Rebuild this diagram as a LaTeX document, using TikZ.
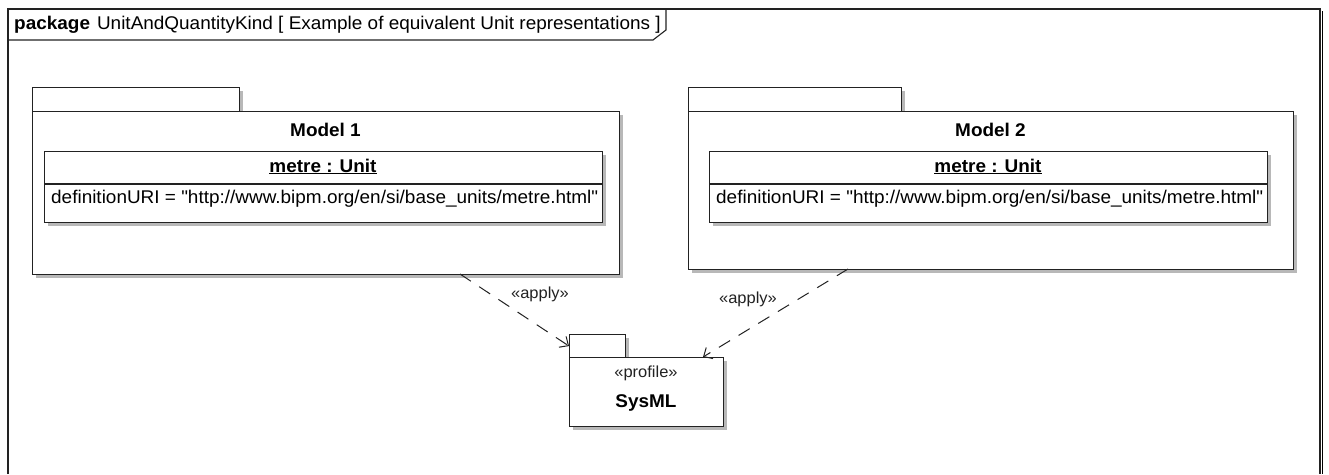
\documentclass[tikz,border=0pt]{standalone}
\usepackage{fontspec}
\setmainfont{Liberation Sans}[Ligatures=TeXOff, FakeStretch=1.03]
\usetikzlibrary{arrows.meta}
\definecolor{edge}{HTML}{222222}
\definecolor{shade}{HTML}{B8B8B8}
\tikzset{
  x=1pt, y=-1pt,
  box/.style={draw=edge, line width=1.1pt, fill=white, inner sep=0pt, anchor=north west},
  shadowed/.style={preaction={fill=shade, draw=none, transform canvas={shift={(3pt,-3pt)}}}},
  lbl/.style={inner sep=0pt, font=\fontsize{18.4}{20}\selectfont},
  small/.style={inner sep=0pt, font=\fontsize{16}{18}\selectfont, text=edge},
  dep/.style={draw=edge, line width=1pt, dash pattern=on 13pt off 10pt,
    -{Straight Barb[length=7pt, width=13pt, line width=1pt]}},
}
\begin{document}
\begin{tikzpicture}
\useasboundingbox (0,0) rectangle (1329,474);
\fill[white] (0,0) rectangle (1329,474);
% frame
\draw[shade, line width=1.5pt] (1322.5,11) -- (1322.5,474);
\draw[edge, line width=1.1pt] (8,474) -- (8,9) -- (1320,9) -- (1320,474);
\draw[edge, line width=1.1pt] (8,40) -- (653,40) -- (666,30) -- (666,9);
\node[lbl, anchor=base west] (title) at (14,29) {\textbf{package}\hspace{7pt}UnitAndQuantityKind [ Example of equivalent Unit representations ]};

% Model 1
\node[box, shadowed, minimum width=207pt, minimum height=24pt] (m1tab) at (32,87) {};
\node[box, shadowed, minimum width=587pt, minimum height=163pt] (m1) at (32,111) {};
\node[lbl, anchor=base] (m1name) at (325.5,136) {\textbf{Model 1}};
\node[box, shadowed, minimum width=558pt, minimum height=71pt] (u1) at (44,151) {};
\draw[edge, line width=1.1pt] (44,184) -- (602,184);
\node[lbl, anchor=base] (u1name) at (323,172) {\textbf{\underline{metre : Unit}}};
\node[lbl, anchor=base west] (u1attr) at (51,203) {definitionURI = "http://www.bipm.org/en/si/base\_units/metre.html"};

% Model 2
\node[box, shadowed, minimum width=213pt, minimum height=24pt] (m2tab) at (688,87) {};
\node[box, shadowed, minimum width=605pt, minimum height=158pt] (m2) at (688,111) {};
\node[lbl, anchor=base] (m2name) at (990.5,136) {\textbf{Model 2}};
\node[box, shadowed, minimum width=558pt, minimum height=71pt] (u2) at (709,151) {};
\draw[edge, line width=1.1pt] (709,184) -- (1267,184);
\node[lbl, anchor=base] (u2name) at (988,172) {\textbf{\underline{metre : Unit}}};
\node[lbl, anchor=base west] (u2attr) at (716,203) {definitionURI = "http://www.bipm.org/en/si/base\_units/metre.html"};

% SysML profile
\node[box, shadowed, minimum width=56pt, minimum height=23pt] (systab) at (569,334) {};
\node[box, shadowed, minimum width=154pt, minimum height=69pt] (sys) at (569,357) {};
\node[small, anchor=base] (sysst) at (646,377) {«profile»};
\node[lbl, anchor=base] (sysname) at (646,407) {\textbf{SysML}};

% dependencies
\coordinate (d1s) at (460,274);
\coordinate (d2s) at (848,269);
\coordinate (d2e) at (703,357);
\draw[dep] (d1s) -- (systab.west);
\draw[dep] (d2s) -- (d2e);
\node[small, anchor=base] (ap1) at (540,298) {«apply»};
\node[small, anchor=base] (ap2) at (748,303) {«apply»};
\end{tikzpicture}
\end{document}
